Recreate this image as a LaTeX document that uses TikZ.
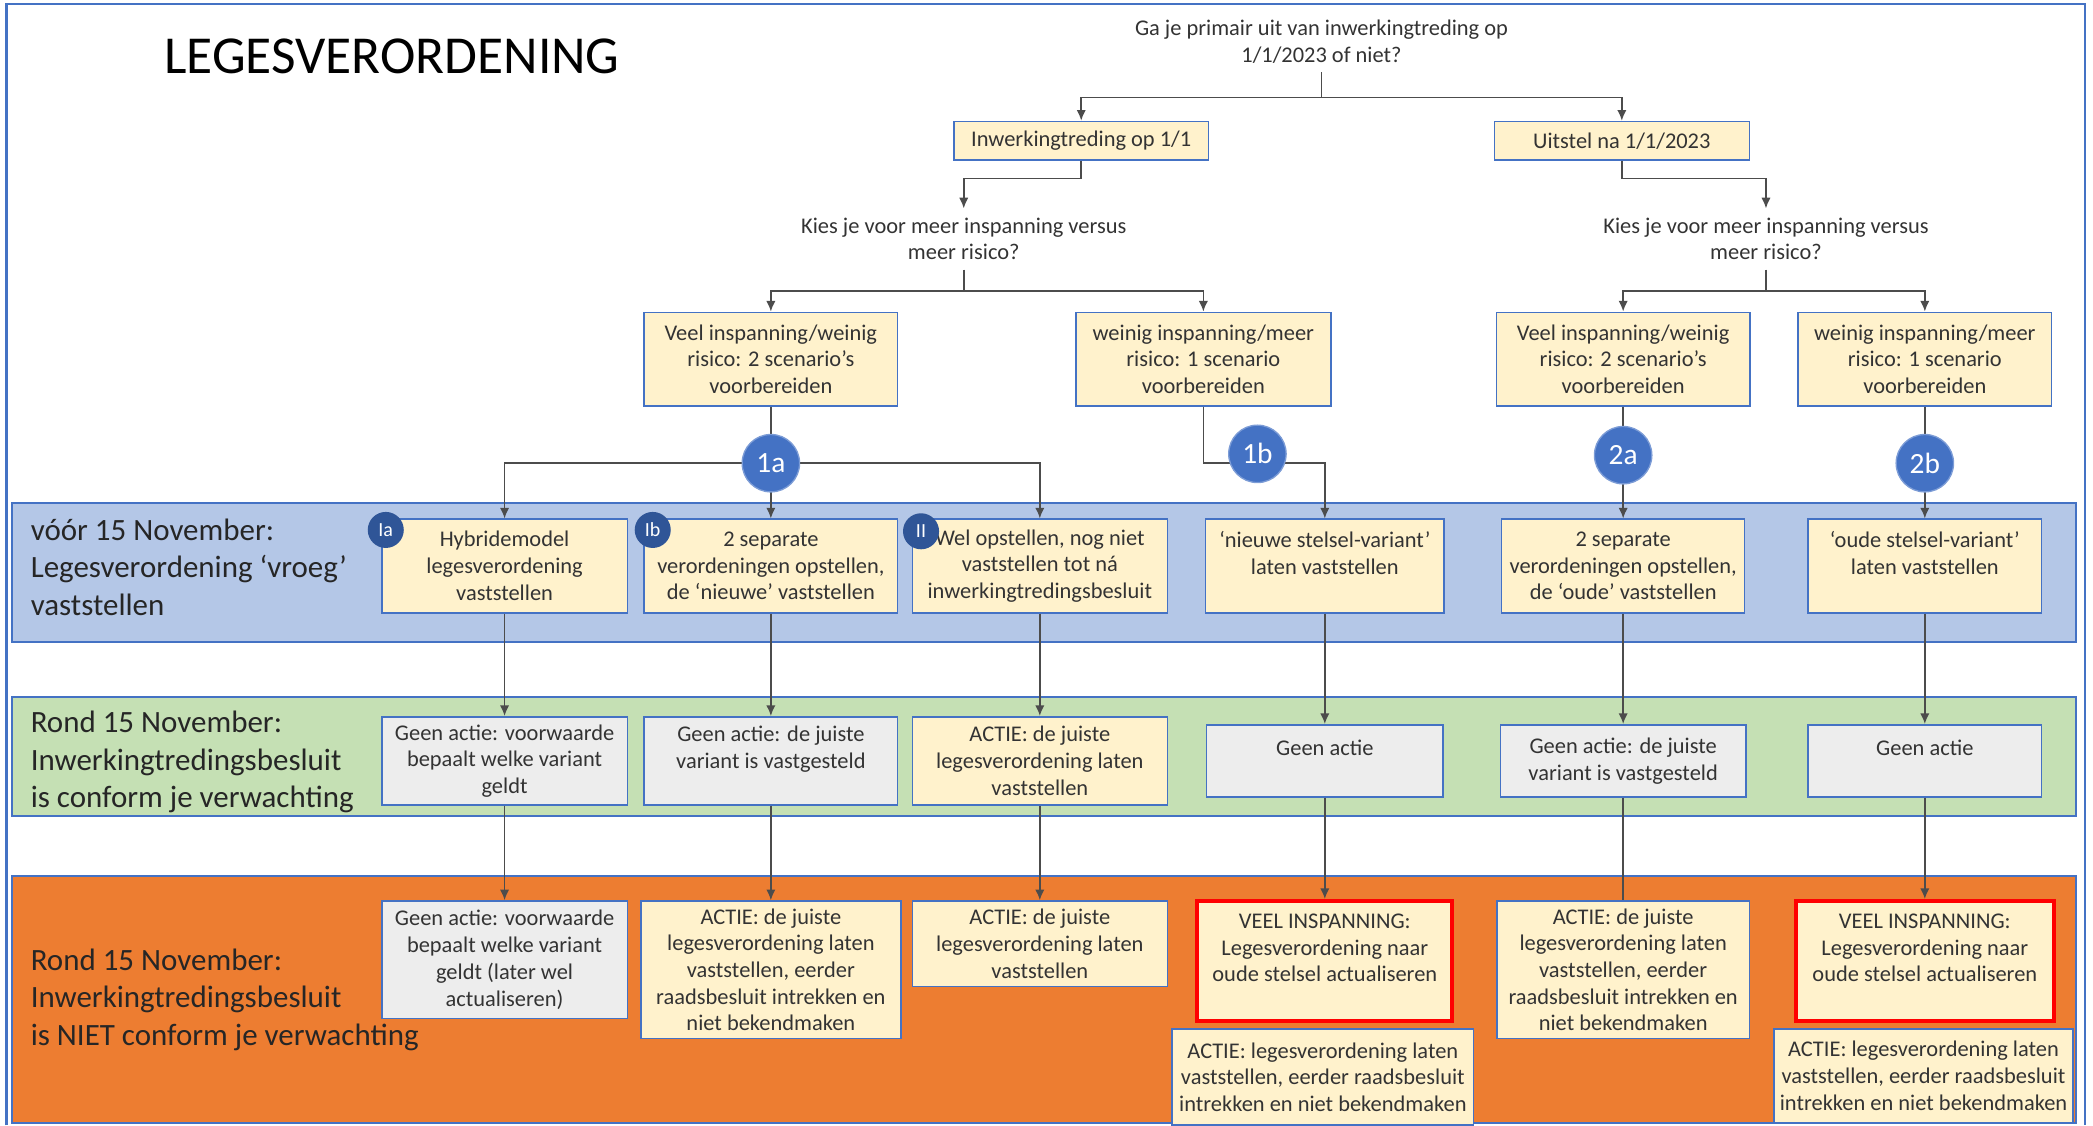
\documentclass[tikz,border=0pt]{standalone}
\usepackage{fontspec}
\setmainfont{Carlito}
\usepackage{xcolor}
\usepackage{tikz}
\usetikzlibrary{arrows.meta}

\definecolor{kader}{HTML}{4472C4}
\definecolor{donkerblauw}{HTML}{2F5597}
\definecolor{bandblauw}{HTML}{B4C7E7}
\definecolor{bandgroen}{HTML}{C5E0B4}
\definecolor{bandoranje}{HTML}{ED7D31}
\definecolor{geel}{HTML}{FFF2CC}
\definecolor{grijsvak}{HTML}{EDEDED}
\definecolor{tekst}{HTML}{333333}

\begin{document}
\begin{tikzpicture}[x=0.5pt, y=-0.5pt,
    box/.style={draw=kader, line width=0.6pt, fill=geel, text=tekst, align=center,
        font=\fontsize{8.4}{10}\selectfont, inner sep=1pt},
    grijs/.style={box, fill=grijsvak},
    rood/.style={box, draw=red, line width=1.5pt},
    vraag/.style={align=center, text=tekst, font=\fontsize{8.4}{10}\selectfont},
    band/.style={draw=kader, line width=0.8pt},
    bandtekst/.style={anchor=west, align=left, text=black!85, font=\fontsize{11.6}{14}\selectfont},
    bol/.style={circle, fill=kader, draw=kader!70, line width=0.5pt, text=white,
        minimum size=21.5pt, inner sep=0pt, font=\fontsize{11}{11}\selectfont},
    bolletje/.style={circle, fill=donkerblauw, text=white, minimum size=13.5pt,
        inner sep=0pt, font=\fontsize{7.5}{7.5}\selectfont},
    lijn/.style={draw=black!70, line width=0.6pt},
    pijl/.style={lijn, -{Latex[length=4pt,width=3.5pt]}}]
\useasboundingbox (0,0) rectangle (1568,843);
\draw[kader, line width=1pt] (5,843) -- (5,3) -- (1562,3) -- (1562,843);

% banden
\draw[band, fill=bandblauw] (9,377) rectangle (1555,481);
\draw[band, fill=bandgroen] (9,522) rectangle (1555,611);
\draw[band, fill=bandoranje] (9,656) rectangle (1555,841);
\node[bandtekst] (lbl1) at (16,425) {vóór 15 November:\\Legesverordening ‘vroeg’\\vaststellen};
\node[bandtekst] (lbl2) at (16,571) {Rond 15 November:\\Inwerkingtredingsbesluit\\is conform je verwachting};
\node[bandtekst] (lbl3) at (16,749) {Rond 15 November:\\Inwerkingtredingsbesluit\\is NIET conform je verwachting};

\node[anchor=west, font=\fontsize{20}{24}\selectfont] (titel) at (116,42) {LEGESVERORDENING};

% beslisboom
\node[vraag] (q1) at (990,31) {Ga je primair uit van inwerkingtreding op\\1/1/2023 of niet?};
\node[box, minimum width=95.5pt, minimum height=14.5pt] (inw) at (810,105.5) {Inwerkingtreding op 1/1};
\node[box, minimum width=95.5pt, minimum height=14.5pt] (uit) at (1215,105.5) {Uitstel na 1/1/2023};
\node[vraag] (q2a) at (722,179) {Kies je voor meer inspanning versus\\meer risico?};
\node[vraag] (q2b) at (1323,179) {Kies je voor meer inspanning versus\\meer risico?};
\node[box, minimum width=95pt, minimum height=35pt] (veel1) at (577.5,269) {Veel inspanning/weinig\\risico: 2 scenario’s\\voorbereiden};
\node[box, minimum width=95.5pt, minimum height=35pt] (wein1) at (901.5,269) {weinig inspanning/meer\\risico: 1 scenario\\voorbereiden};
\node[box, minimum width=95pt, minimum height=35pt] (veel2) at (1216,269) {Veel inspanning/weinig\\risico: 2 scenario’s\\voorbereiden};
\node[box, minimum width=95pt, minimum height=35pt] (wein2) at (1442,269) {weinig inspanning/meer\\risico: 1 scenario\\voorbereiden};

% voor 15 november
\node[box, minimum width=92pt, minimum height=35pt] (ia) at (378,424) {Hybridemodel\\legesverordening\\vaststellen};
\node[box, minimum width=95pt, minimum height=35pt] (ib) at (577.5,424) {2 separate\\verordeningen opstellen,\\de ‘nieuwe’ vaststellen};
\node[box, minimum width=95.5pt, minimum height=35pt] (ii) at (779,424) {Wel opstellen, nog niet\\vaststellen tot ná\\inwerkingtredingsbesluit};
\node[box, minimum width=89.5pt, minimum height=35pt] (nieuw) at (992.5,424) {‘nieuwe stelsel-variant’\\laten vaststellen\\~};
\node[box, minimum width=91pt, minimum height=35pt] (sep2) at (1216,424) {2 separate\\verordeningen opstellen,\\de ‘oude’ vaststellen};
\node[box, minimum width=87.5pt, minimum height=35pt] (oude) at (1442,424) {‘oude stelsel-variant’\\laten vaststellen\\~};

% rond 15 november, conform
\node[grijs, minimum width=92pt, minimum height=33pt] (g_ia) at (378,570) {Geen actie: voorwaarde\\bepaalt welke variant\\geldt};
\node[grijs, minimum width=95pt, minimum height=33pt] (g_ib) at (577.5,570) {Geen actie: de juiste\\variant is vastgesteld\\~};
\node[box, minimum width=95.5pt, minimum height=33pt] (g_ii) at (779,570) {ACTIE: de juiste\\legesverordening laten\\vaststellen};
\node[grijs, minimum width=88.5pt, minimum height=27pt] (g_nieuw) at (992.5,570) {Geen actie\\~};
\node[grijs, minimum width=92pt, minimum height=27pt] (g_sep2) at (1216,570) {Geen actie: de juiste\\variant is vastgesteld};
\node[grijs, minimum width=87.5pt, minimum height=27pt] (g_oude) at (1442,570) {Geen actie\\~};

% rond 15 november, niet conform
\node[grijs, minimum width=92pt, minimum height=44pt] (r_ia) at (378,719) {Geen actie: voorwaarde\\bepaalt welke variant\\geldt (later wel\\actualiseren)};
\node[box, minimum width=97.5pt, minimum height=51.5pt] (r_ib) at (577.5,726.5) {ACTIE: de juiste\\legesverordening laten\\vaststellen, eerder\\raadsbesluit intrekken en\\niet bekendmaken};
\node[box, minimum width=95.5pt, minimum height=32pt] (r_ii) at (779,707) {ACTIE: de juiste\\legesverordening laten\\vaststellen};
\node[rood, minimum width=95.5pt, minimum height=45pt] (r_nieuw) at (992.5,720) {VEEL INSPANNING:\\Legesverordening naar\\oude stelsel actualiseren\\~};
\node[box, minimum width=113pt, minimum height=36pt] (r_nieuw2) at (991,807) {ACTIE: legesverordening laten\\vaststellen, eerder raadsbesluit\\intrekken en niet bekendmaken};
\node[box, minimum width=94.5pt, minimum height=51.5pt] (r_sep2) at (1216,726.5) {ACTIE: de juiste\\legesverordening laten\\vaststellen, eerder\\raadsbesluit intrekken en\\niet bekendmaken};
\node[rood, minimum width=96.5pt, minimum height=45pt] (r_oude) at (1442,720) {VEEL INSPANNING:\\Legesverordening naar\\oude stelsel actualiseren\\~};
\node[box, minimum width=112pt, minimum height=35pt] (r_oude2) at (1441,806) {ACTIE: legesverordening laten\\vaststellen, eerder raadsbesluit\\intrekken en niet bekendmaken};

% verbindingen
\coordinate (j1) at (990,73);
\draw[lijn] (q1.south) -- (j1);
\draw[pijl] (j1) -| (inw.north);
\draw[pijl] (j1) -| (uit.north);
\draw[pijl] (inw.south) -- ++(0,13) -| (q2a.north);
\draw[pijl] (uit.south) -- ++(0,13) -| (q2b.north);
\coordinate (j2) at (722,218);
\draw[lijn] (q2a.south) -- (j2);
\draw[pijl] (j2) -| (veel1.north);
\draw[pijl] (j2) -| (wein1.north);
\coordinate (j3) at (1323,218);
\draw[lijn] (q2b.south) -- (j3);
\draw[pijl] (j3) -| (veel2.north);
\draw[pijl] (j3) -| (wein2.north);

\coordinate (k1a) at (577.5,347);
\coordinate (k1b) at (942,347);
\draw[lijn] (veel1.south) -- (k1a);
\draw[pijl] (k1a) -| (ia.north);
\draw[pijl] (k1a) -- (ib.north);
\draw[pijl] (k1a) -| (ii.north);
\draw[pijl] (wein1.south) |- (k1b) -| (nieuw.north);
\draw[pijl] (veel2.south) -- (sep2.north);
\draw[pijl] (wein2.south) -- (oude.north);

\foreach \a/\b in {ia/g_ia, ib/g_ib, ii/g_ii, nieuw/g_nieuw, sep2/g_sep2, oude/g_oude,
    g_ia/r_ia, g_ib/r_ib, g_ii/r_ii, g_nieuw/r_nieuw, g_oude/r_oude}
  \draw[pijl] (\a.south) -- (\b.north);
\draw[lijn] (g_sep2.south) -- (r_sep2.north);

% nummers
\node[bol] (c1a) at (k1a) {1a};
\node[bol] (c1b) at (942,340) {1b};
\node[bol] (c2a) at (1216,341) {2a};
\node[bol] (c2b) at (1442,347) {2b};
\node[bolletje] (s_ia) at (289,397) {Ia};
\node[bolletje] (s_ib) at (489,397) {Ib};
\node[bolletje] (s_ii) at (690,398) {II};
\end{tikzpicture}
\end{document}
